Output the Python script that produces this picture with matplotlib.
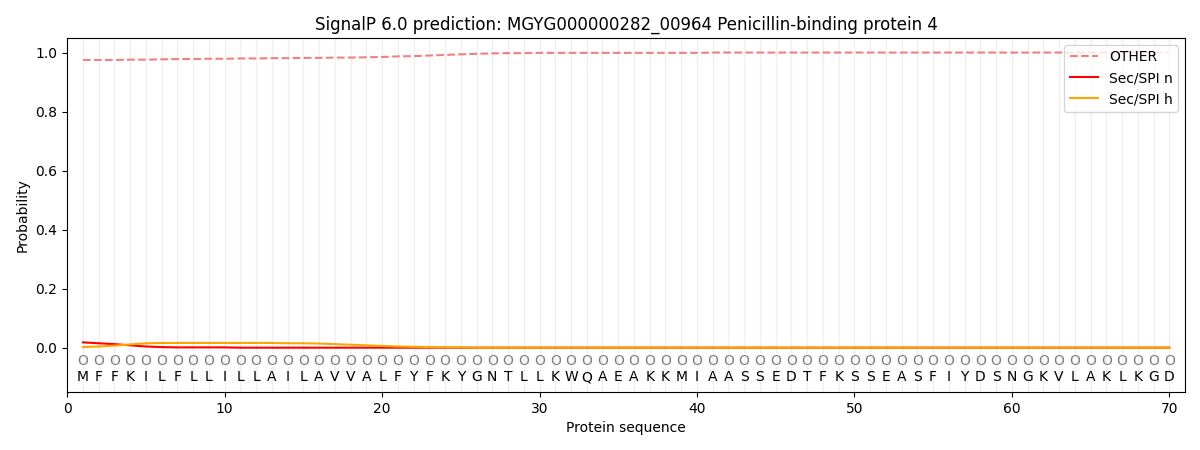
import matplotlib.pyplot as plt

seq = "MFFKILFLLILLAILAVVALFYFKYGNTLLKWQAEAKKMIAASSEDTFKSSEASFIYDSNGKVLAKLKGD"
pos = list(range(1, len(seq) + 1))

other = [0.975, 0.975, 0.975, 0.976, 0.976, 0.977, 0.978, 0.978, 0.979, 0.979,
         0.980, 0.980, 0.981, 0.981, 0.982, 0.982, 0.983, 0.983, 0.984, 0.985,
         0.987, 0.988, 0.990, 0.992, 0.994, 0.996, 0.997, 0.998, 0.998, 0.999]
other = other + [0.999] * 10 + [1.0] * (len(seq) - 40)

sec_n = [0.018, 0.015, 0.012, 0.008, 0.004, 0.002, 0.001, 0.001, 0.001, 0.001]
sec_n = sec_n + [0.0] * (len(seq) - len(sec_n))

sec_h = [0.002, 0.004, 0.007, 0.011, 0.015, 0.016, 0.016, 0.016, 0.016, 0.016,
         0.016, 0.016, 0.016, 0.015, 0.015, 0.014, 0.012, 0.010, 0.008, 0.006,
         0.004, 0.003, 0.002, 0.001, 0.001]
sec_h = sec_h + [0.0] * (len(seq) - len(sec_h))

fig = plt.figure(figsize=(12, 4.5), dpi=100)
ax = fig.add_axes([0.056, 0.129, 0.9315, 0.787])

for p in pos:
    ax.axvline(p, color="lightgray", alpha=0.35, lw=1, zorder=0)

ax.plot(pos, other, "--", color="lightcoral", label="OTHER")
ax.plot(pos, sec_n, color="red", label="Sec/SPI n")
ax.plot(pos, sec_h, color="orange", label="Sec/SPI h")

for p, aa in zip(pos, seq):
    ax.text(p, -0.045, "O", ha="center", va="center", fontsize=10, color="gray")
    ax.text(p, -0.1, aa, ha="center", va="center", fontsize=10)

ax.set_xlim(0, 71)
ax.set_ylim(-0.15, 1.05)
ax.set_xlabel("Protein sequence")
ax.set_ylabel("Probability")
ax.set_title("SignalP 6.0 prediction: MGYG000000282_00964 Penicillin-binding protein 4")
ax.legend(loc="upper right")

fig.savefig("out.png")
